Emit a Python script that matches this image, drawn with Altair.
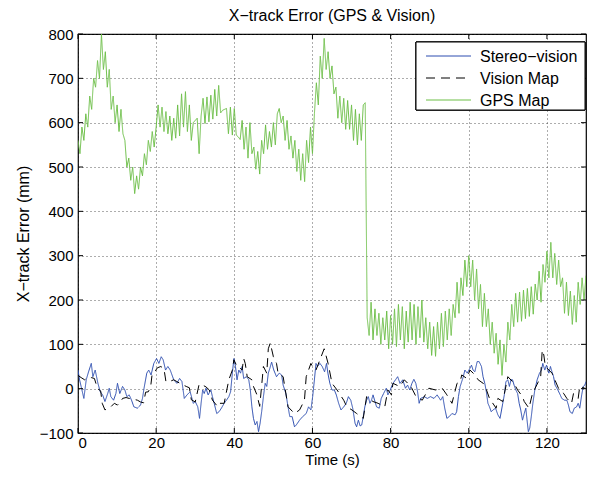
import altair as alt
import pandas as pd

FONT = "Liberation Sans"

# ---------------- data ----------------
series_names = ["Stereo\u2212vision", "Vision Map", "GPS Map"]
series_colors = ["#2c4db0", "#000000", "#6cbf47"]
series_dashes = [[1, 0], [9, 6], [1, 0]]

x_ticks = [0, 20, 40, 60, 80, 100, 120]
y_ticks = [-100, 0, 100, 200, 300, 400, 500, 600, 700, 800]

# GPS map cross-track error, one value every 0.5 s from t = 0 to t = 130
gps_step = 0.5
gps_values = [
    560, 530, 590, 560, 620, 590, 660, 630, 700, 680, 740, 700, 800, 720, 760, 680, 720, 630, 660, 600, 640,
    580, 630, 575, 560, 500, 520, 470, 500, 440, 480, 450, 500, 480, 530, 505, 560, 535, 580, 545, 590,
    640, 590, 635, 580, 625, 575, 615, 560, 610, 565, 640, 570, 665, 590, 670, 580, 640, 560, 600, 605,
    610, 530, 615, 655, 598, 658, 602, 662, 608, 675, 615, 684, 622, 628, 630, 632, 575, 635, 572, 632,
    572, 568, 562, 605, 540, 590, 520, 600, 530, 545, 495, 535, 484, 560, 530, 595, 540, 580, 545, 600,
    550, 620, 632, 600, 615, 560, 605, 540, 570, 520, 560, 490, 540, 470, 530, 467, 560, 510, 590, 530,
    620, 690, 640, 750, 700, 790, 720, 760, 700, 728, 665, 680, 610, 660, 600, 655, 585, 650, 585, 640,
    560, 630, 550, 620, 560, 640, 645, 160, 120, 195, 110, 180, 120, 170, 100, 160, 110, 175, 90, 165,
    100, 180, 95, 190, 110, 185, 90, 175, 105, 195, 110, 190, 100, 185, 115, 200, 105, 160, 90, 150,
    75, 140, 73, 150, 90, 170, 95, 175, 110, 180, 120, 190, 160, 240, 170, 250, 210, 290, 230, 300,
    230, 290, 200, 270, 180, 235, 140, 215, 140, 180, 100, 150, 80, 125, 55, 110, 30, 100, 60, 150,
    110, 190, 140, 215, 150, 218, 152, 222, 158, 226, 163, 230, 168, 236, 200, 265, 195, 280, 240, 310,
    250, 330, 250, 305, 235, 290, 230, 250, 170, 240, 165, 220, 145, 210, 150, 240, 190, 250, 200, 255,
]

# Stereo-vision: (time s, error mm)
stereo_points = [
    (0, 42), (0.4, 20), (0.8, 5), (1.5, -22), (2.1, 20), (2.7, 38), (3.4, 57), (3.8, 27), (4.4, 42), (5.1, 12),
    (5.7, -7), (6.3, -14), (6.9, -29), (7.6, -11), (8.0, 1), (8.4, -18), (9.1, -26), (9.7, -11), (10.1, 12), (10.7, -11),
    (11.4, 5), (12.0, -3), (12.5, -18), (13.1, -14), (13.7, -26), (14.3, -41), (15.2, -44), (16.0, -37), (16.5, -22), (16.9, 1),
    (17.6, 35), (18.1, 42), (18.7, 31), (19.4, 57), (20.1, 68), (20.7, 57), (21.3, 72), (21.8, 65), (22.4, 42), (23.0, 50),
    (23.6, 42), (24.5, 20), (25.3, 12), (26.0, 23), (26.6, 16), (27.2, -22), (27.9, -14), (28.7, -7), (29.5, -33), (30.0, -29),
    (30.65, -41), (31.1, -67), (31.5, -33), (31.9, -3), (32.3, -11), (32.75, 1), (33.3, -14), (34.0, -3), (34.4, -18), (34.85, -33),
    (35.5, -56), (36.1, -52), (36.7, -44), (37.4, -33), (38.0, -26), (38.6, -18), (39.05, -7), (39.5, 35), (39.9, 68), (40.3, 50),
    (40.7, 20), (41.15, 42), (41.6, 35), (42.0, 50), (42.4, 23), (43.1, 27), (43.7, 20), (44.1, -3), (44.5, -41), (44.9, -67),
    (45.35, -82), (45.8, -74), (46.2, -97), (46.6, -78), (47.0, -52), (47.45, -18), (47.9, 12), (48.3, 5), (48.7, 35), (49.1, 46),
    (49.55, 60), (50.1, 42), (50.8, 27), (51.5, 35), (52.1, 31), (52.5, 8), (53.2, -11), (53.75, -41), (54.2, -63), (54.8, -63),
    (55.4, -86), (55.85, -82), (56.7, -71), (57.5, -63), (58.4, -56), (59.0, -41), (59.6, -48), (60.05, -18), (60.5, 20), (60.9, 57),
    (61.3, 50), (61.9, 57), (62.5, 50), (63.1, 38), (63.6, 57), (63.95, 35), (64.45, 12), (65.0, -3), (65.6, -3), (66.1, -14),
    (66.7, -33), (67.3, -48), (68.0, -41), (68.65, -33), (69.2, -18), (69.8, -26), (70.3, -44), (70.9, -78), (71.3, -86), (71.75, -71),
    (72.2, -84), (72.6, -82), (73.0, -63), (73.4, -41), (73.85, -26), (74.3, -18), (74.7, -33), (75.1, -26), (75.5, -14), (76.0, -29),
    (76.4, -41), (77.1, -44), (77.6, -22), (78.2, -11), (78.9, 1), (79.3, -14), (79.9, -3), (80.6, 12), (81.25, 20), (81.8, 27),
    (82.4, 12), (83.1, 20), (83.8, 1), (84.35, 8), (84.9, -3), (85.45, 12), (85.95, 21), (86.45, 12), (86.9, -7), (87.3, -33),
    (87.7, -22), (88.6, -18), (89.4, -22), (90.2, -18), (91.1, -22), (91.9, -14), (92.8, -26), (93.35, -18), (93.85, -44), (94.4, -67),
    (95.0, -63), (95.7, -56), (96.5, -59), (96.9, -52), (97.35, -18), (97.8, 5), (98.2, 16), (98.6, 27), (99.0, 42), (99.6, 35),
    (100.3, 46), (100.7, 53), (101.1, 42), (101.55, 38), (102.15, 61), (102.65, 61), (103.25, 50), (103.65, 27), (104.1, 12), (104.5, -7),
    (104.9, -33), (105.3, -41), (105.75, -52), (106.2, -48), (106.85, -44), (107.45, -59), (108.0, -67), (108.7, -33), (109.1, -14), (109.5, 16),
    (110.0, 20), (110.4, 5), (110.8, 20), (111.2, 20), (111.6, 8), (112.05, -3), (112.5, -11), (112.9, -33), (113.3, -48), (113.75, -71),
    (114.2, -56), (114.6, -44), (115.0, -78), (115.25, -97), (115.6, -89), (116.0, -63), (116.4, -33), (116.9, -3), (117.5, 20), (118.1, 35),
    (118.6, 42), (118.95, 57), (119.45, 42), (119.9, 53), (120.5, 35), (120.9, 50), (121.3, 38), (121.7, 27), (122.1, 8), (122.8, -3),
    (123.4, -14), (123.8, -22), (124.5, -26), (125.1, -26), (125.5, -37), (125.9, -52), (126.5, -56), (127.0, -44), (127.6, -41), (128.0, -33),
    (128.4, -44), (128.9, -14), (129.3, 5), (129.7, 8), (130.0, 16),
]

# Vision map: (time s, error mm)
vision_map_points = [
    (0, 30), (0.8, 25), (1.7, 20), (2.5, 25), (3.4, 25), (4.2, 23), (5.0, 0), (5.8, -5), (6.2, -33), (6.9, -48),
    (7.6, -44), (8.4, -41), (9.3, -33), (10.1, -37), (10.9, -30), (11.4, -22), (12.3, -20), (13.1, -22), (14.3, -24), (15.2, -26),
    (16.0, -30), (16.8, -32), (17.3, -8), (18.0, -7), (18.6, 5), (19.0, 35), (19.8, 40), (20.3, 47), (21.2, 50), (22.0, 45),
    (22.5, 16), (23.4, 16), (24.5, 20), (25.3, 16), (26.5, 10), (27.7, 5), (28.5, 2), (29.0, -25), (30.0, -30), (31.0, 10),
    (31.9, 8), (32.75, 4), (33.6, -3), (34.4, -26), (35.7, -40), (36.1, -33), (37.4, -33), (38.6, 20), (39.5, 42), (39.9, 65),
    (40.7, 50), (41.15, 50), (42.0, 42), (42.4, 68), (42.8, 57), (43.3, 27), (44.5, 20), (44.9, 5), (45.8, -14), (46.5, -40),
    (47.45, 50), (48.3, 35), (48.7, 90), (49.2, 103), (50.0, 72), (50.8, 57), (51.2, 35), (52.5, 27), (53.75, -41), (55.4, -56),
    (56.7, -48), (57.95, -26), (58.4, 27), (59.6, 57), (60.0, 50), (60.9, 42), (63.0, 90), (64.0, 57), (65.0, 12), (66.3, -3),
    (68.0, -26), (68.8, -41), (70.1, -48), (71.3, -56), (71.75, -59), (73.0, -67), (73.85, -18), (75.5, -29), (76.8, -33), (78.5, -41),
    (79.3, -3), (80.2, -14), (80.6, 12), (82.3, 5), (83.5, 20), (85.2, 5), (86.5, -18), (88.1, -26), (89.8, 1), (91.5, -3),
    (93.2, 1), (94.4, -14), (95.7, -33), (97.0, 12), (97.8, 16), (98.2, 31), (99.5, 23), (100.3, 42), (101.6, 31), (102.4, 20),
    (103.7, 12), (104.1, 8), (105.3, -22), (107.0, -44), (107.45, -22), (108.7, -29), (110.0, 27), (111.6, 12), (112.5, -3), (113.75, -18),
    (114.2, -29), (115.4, -44), (116.3, -11), (117.5, 10), (118.4, 27), (118.8, 87), (119.2, 76), (119.6, 50), (121.3, 35), (123.0, 0),
    (124.3, -11), (125.1, -22), (126.3, -33), (126.8, -11), (128.0, -22), (128.4, 5), (129.7, 1),
]

# ---------------- build table ----------------
rows = []
for t, v in stereo_points:
    rows.append({"t": t, "v": v, "series": series_names[0]})
for t, v in vision_map_points:
    rows.append({"t": t, "v": v, "series": series_names[1]})
for i, v in enumerate(gps_values):
    rows.append({"t": i * gps_step, "v": v, "series": series_names[2]})
df = pd.DataFrame(rows)

W, H = 508, 399
TICK = 5

x_scale = alt.Scale(domain=[0, 130], nice=False, zero=False)
y_scale = alt.Scale(domain=[-100, 800], nice=False, zero=False)
x_axis = alt.Axis(title="Time (s)", values=x_ticks, format="d")
y_axis = alt.Axis(title="X\u2212track Error (mm)", values=y_ticks, format="d")
color_scale = alt.Scale(domain=series_names, range=series_colors)
dash_scale = alt.Scale(domain=series_names, range=series_dashes)

lines = alt.Chart(df).mark_line(strokeWidth=1, clip=True).encode(
    x=alt.X("t:Q", scale=x_scale, axis=x_axis),
    y=alt.Y("v:Q", scale=y_scale, axis=y_axis),
    color=alt.Color("series:N", sort=series_names, scale=color_scale, legend=None),
    strokeDash=alt.StrokeDash("series:N", sort=series_names, scale=dash_scale, legend=None),
)

xt = pd.DataFrame({"t": x_ticks})
yt = pd.DataFrame({"v": y_ticks})

bottom_ticks = alt.Chart(xt).mark_rule(color="black", strokeWidth=1).encode(
    x=alt.X("t:Q", scale=x_scale, axis=x_axis), y=alt.value(H), y2=alt.value(H - TICK))
top_ticks = alt.Chart(xt).mark_rule(color="black", strokeWidth=1).encode(
    x=alt.X("t:Q", scale=x_scale, axis=x_axis), y=alt.value(0), y2=alt.value(TICK))
left_ticks = alt.Chart(yt).mark_rule(color="black", strokeWidth=1).encode(
    y=alt.Y("v:Q", scale=y_scale, axis=y_axis), x=alt.value(0), x2=alt.value(TICK))
right_ticks = alt.Chart(yt).mark_rule(color="black", strokeWidth=1).encode(
    y=alt.Y("v:Q", scale=y_scale, axis=y_axis), x=alt.value(W), x2=alt.value(W - TICK))

main = alt.layer(lines, bottom_ticks, top_ticks, left_ticks, right_ticks)

# ---------------- legend (box in the upper right corner) ----------------
legend_df = pd.DataFrame({"series": series_names})
leg_y = alt.Y("series:N", sort=series_names, axis=None,
              scale=alt.Scale(type="point", domain=series_names, range=[22, 66], padding=0))

LX = W - 170
leg_box = alt.Chart(legend_df).mark_rect(fill="white", stroke="black", strokeWidth=1).encode(
    x=alt.value(LX), x2=alt.value(W - 1), y=alt.value(8), y2=alt.value(76))
leg_lines = alt.Chart(legend_df).mark_rule(strokeWidth=1).encode(
    y=leg_y, x=alt.value(LX + 10), x2=alt.value(LX + 55),
    color=alt.Color("series:N", sort=series_names, scale=color_scale, legend=None),
    strokeDash=alt.StrokeDash("series:N", sort=series_names, scale=dash_scale, legend=None),
)
leg_text = alt.Chart(legend_df).mark_text(
    align="left", baseline="middle", font=FONT, fontSize=16, color="black", dy=1).encode(
    y=leg_y, x=alt.value(LX + 64), text="series:N")

legend_layer = alt.layer(leg_box, leg_lines, leg_text)

chart = alt.layer(main, legend_layer).resolve_scale(y="independent").properties(
    width=W, height=H,
    title=alt.TitleParams("X\u2212track Error (GPS & Vision)", font=FONT, fontSize=16,
                          fontWeight="normal", color="black", offset=3, anchor="middle"),
    autosize=alt.AutoSizeParams(type="none"),
    padding={"left": 70, "top": 26, "right": 1, "bottom": 36},
    background="white",
).configure_view(
    stroke="black", strokeWidth=1.2
).configure_axis(
    grid=True, gridColor="#333333", gridDash=[1, 3], gridWidth=1, gridOpacity=0.8,
    domain=False, ticks=False, tickSize=0,
    labelFont=FONT, labelFontSize=15, labelColor="black",
    titleFont=FONT, titleFontWeight="normal", titleColor="black",
).configure_axisX(
    labelPadding=2, titlePadding=2, titleFontSize=15
).configure_axisY(
    labelPadding=5, titlePadding=8, titleFontSize=16
)

chart.save("out.html", embed_options={"renderer": "svg", "actions": False})
